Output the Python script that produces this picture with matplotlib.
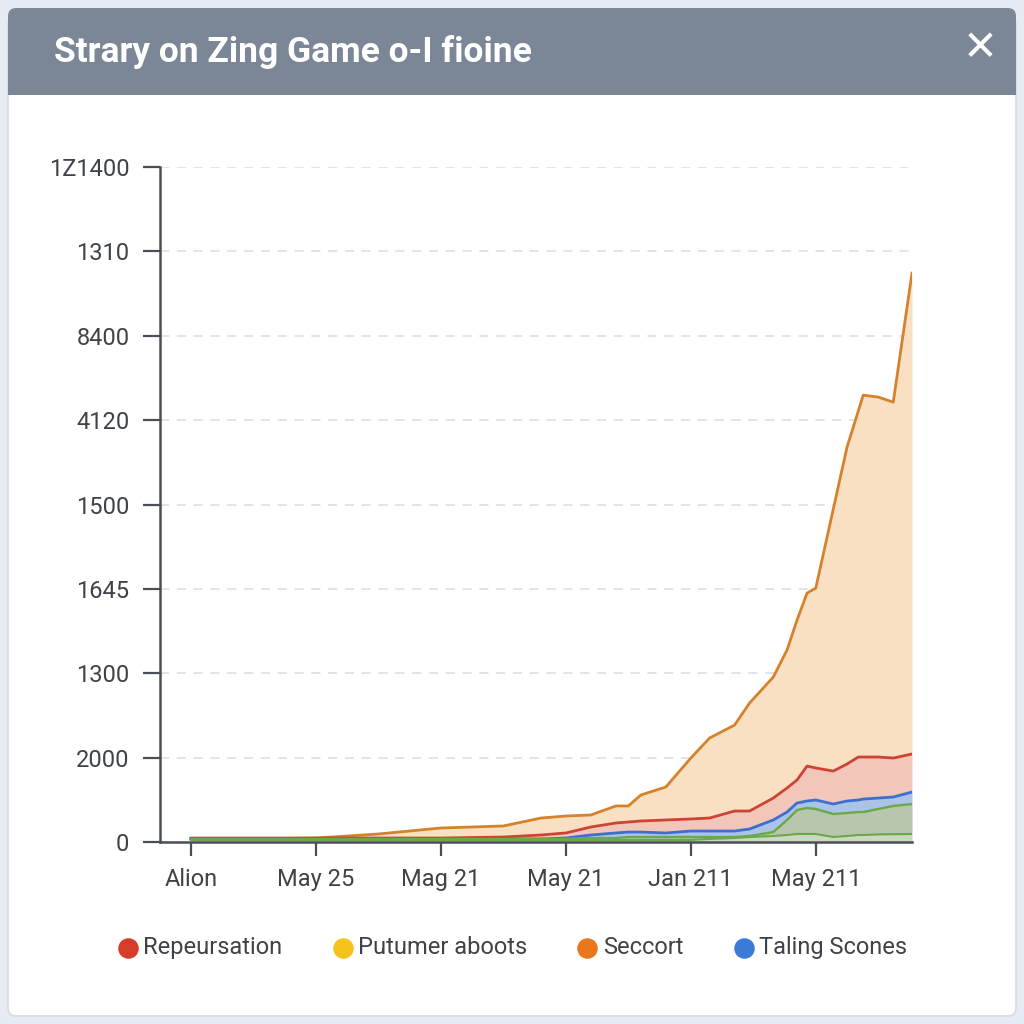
import matplotlib
matplotlib.use("Agg")
import matplotlib.pyplot as plt
from matplotlib.patches import FancyBboxPatch, Rectangle
import numpy as np

plt.rcParams['font.family'] = ['Roboto', 'DejaVu Sans']

# x positions (tick spacing = 10 units)
x = [0, 5, 10, 15, 20, 25, 28, 30, 32, 34, 35, 36, 38, 40, 41.5, 43.5, 44.7,
     46.6, 47.7, 48.5, 49.3, 50, 51.4, 52.5, 53.4, 53.8, 55, 56.2, 57.7]

# stacked totals (top edge of each band)
seccort = [36, 36, 47, 95, 166, 190, 284, 308, 320, 427, 427, 557, 652, 995, 1232,
           1386, 1647, 1955, 2275, 2630, 2950, 3009, 3945, 4680, 5107, 5296, 5273, 5213, 6742]
repeursation = [47, 47, 47, 47, 47, 59, 83, 107, 178, 225, 237, 249, 261, 273, 284,
                367, 367, 521, 640, 735, 900, 877, 841, 924, 1007, 1007, 1007, 995, 1043]
taling = [36, 36, 36, 36, 36, 36, 36, 47, 83, 107, 118, 118, 107, 130, 130,
          130, 154, 261, 355, 462, 486, 498, 450, 486, 498, 509, 521, 533, 592]
green_upper = [36, 36, 36, 36, 36, 36, 36, 36, 47, 47, 59, 59, 59, 59, 59,
               59, 71, 118, 261, 379, 403, 391, 332, 344, 355, 355, 391, 427, 450]
green_lower = [24, 24, 24, 24, 24, 24, 24, 24, 24, 24, 24, 24, 24, 24, 36,
               47, 59, 71, 83, 95, 95, 95, 59, 71, 83, 83, 90, 92, 95]

y_ticks = [0, 1000, 2000, 3000, 4000, 5000, 6000, 7000, 8000]
y_labels = ['0', '2000', '1300', '1645', '1500', '4120', '8400', '1310', '1Z1400']
x_ticks = [0, 10, 20, 30, 40, 50]
x_labels = ['Alion', 'May 25', 'Mag 21', 'May 21', 'Jan 211', 'May 211']

legend_names = ['Repeursation', 'Putumer aboots', 'Seccort', 'Taling Scones']
legend_colors = ['#d63c2a', '#f6c21c', '#e8771e', '#3a7bd8']

fig = plt.figure(figsize=(10.24, 10.24), dpi=100)
fig.patch.set_facecolor('#e6eaf2')

# card and header
fig.patches.append(FancyBboxPatch((8/1024, 8/1024), 1008/1024, 1000/1024,
                                  boxstyle="round,pad=0,rounding_size=0.008",
                                  transform=fig.transFigure, facecolor='white',
                                  edgecolor='#d5dae3', lw=1.2, zorder=0))
fig.patches.append(FancyBboxPatch((8/1024, 929/1024), 1008/1024, 87/1024,
                                  boxstyle="round,pad=0,rounding_size=0.008",
                                  transform=fig.transFigure, facecolor='#7b8696',
                                  edgecolor='none', zorder=1))
fig.patches.append(Rectangle((8/1024, 929/1024), 1008/1024, 20/1024,
                             transform=fig.transFigure, facecolor='#7b8696',
                             edgecolor='none', zorder=1))
fig.text(54/1024, 972/1024, 'Strary on Zing Game o-I fioine', color='white',
         fontsize=25.5, fontweight='bold', va='center', ha='left',
         family=['Roboto', 'DejaVu Sans'])
fig.text(980/1024, 976/1024, '\u2715', color='white', fontsize=30,
         fontweight='bold', va='center', ha='center', family=['DejaVu Sans'])

ax = fig.add_axes([160/1024, 182/1024, 752/1024, 675/1024])
ax.set_zorder(5)
ax.set_facecolor('none')

x = np.array(x)
ax.fill_between(x, repeursation, seccort, color='#f9e0c2', lw=0)
ax.fill_between(x, taling, repeursation, color='#f2c6b8', lw=0)
ax.fill_between(x, green_upper, taling, color='#abc3e6', lw=0)
ax.fill_between(x, green_lower, green_upper, color='#b7c6ad', lw=0)
ax.fill_between(x, 0, green_lower, color='#cbd9c0', lw=0)

ax.plot(x, seccort, color='#d4822c', lw=2.0)
ax.plot(x, repeursation, color='#cc4434', lw=2.0)
ax.plot(x, taling, color='#3d6fd0', lw=2.0)
ax.plot(x, green_upper, color='#6aa84a', lw=1.7)
ax.plot(x, green_lower, color='#6aa84a', lw=1.5)

ax.set_xlim(-2.48, 57.7)
ax.set_ylim(0, 8000)
ax.set_yticks(y_ticks)
ax.set_yticklabels(y_labels)
ax.set_xticks(x_ticks)
ax.set_xticklabels(x_labels)
ax.yaxis.grid(True, linestyle=(0, (6, 5)), color='#dcdcdc', lw=1.1)
ax.set_axisbelow(True)

for side in ['top', 'right']:
    ax.spines[side].set_visible(False)
for side in ['left', 'bottom']:
    ax.spines[side].set_color('#4a4f57')
    ax.spines[side].set_linewidth(1.8)
ax.tick_params(axis='both', colors='#4a4f57', width=1.6, length=12,
               labelsize=17, labelcolor='#3e434a')
ax.tick_params(axis='y', pad=10)
ax.tick_params(axis='x', pad=9, length=10)

for name, col in zip(legend_names, legend_colors):
    ax.scatter([], [], s=190, color=col, label=name)
leg = ax.legend(loc='center', bbox_to_anchor=(0.466, -0.157), ncol=4,
                frameon=False, fontsize=17, handletextpad=0.05,
                columnspacing=1.95, scatterpoints=1, labelcolor='#3e434a',
                handlelength=1.2)

fig.savefig('out.png', dpi=100, facecolor=fig.get_facecolor())
